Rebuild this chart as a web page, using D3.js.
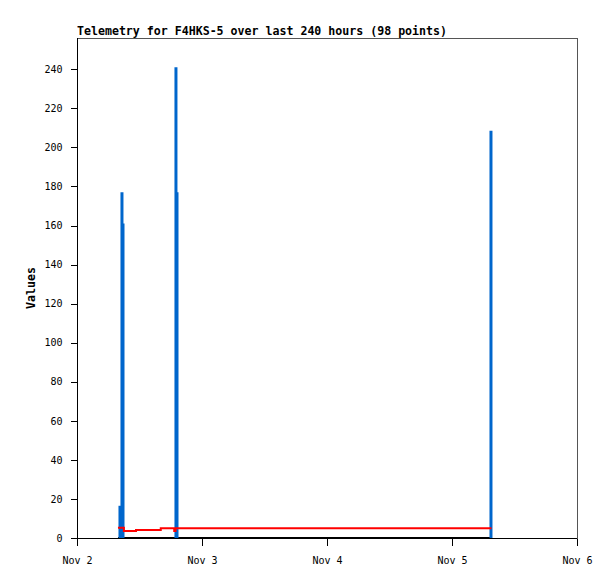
<!DOCTYPE html>
<html>
<head>
<meta charset="utf-8">
<script src="https://cdn.jsdelivr.net/npm/d3@7.9.0/dist/d3.min.js"></script>
<style>
  body { margin: 0; background: #fff; }
  svg { display: block; }
  .tick text { font-family: "DejaVu Sans Mono", monospace; font-size: 10px; fill: #000; }
  .tick line, .domain { stroke: #000; shape-rendering: crispEdges; }
</style>
</head>
<body>
<div id="chart"></div>
<script>
// -------- data --------
const title = 'Telemetry for F4HKS-5 over last 240 hours (98 points)';
const xDomain = ['2023-11-02T00:00Z', '2023-11-06T00:00Z'];
const yTicks = [0, 20, 40, 60, 80, 100, 120, 140, 160, 180, 200, 220, 240];

// blue impulses
const spikeTimes = ['2023-11-02T08:15Z', '2023-11-02T08:38Z', '2023-11-02T08:50Z',
                    '2023-11-02T19:00Z', '2023-11-02T19:12Z', '2023-11-05T07:29Z'];
const spikeValues = [16.5, 177, 161, 241, 177, 208.5];

// red step line
const levelTimes = ['2023-11-02T07:52Z', '2023-11-02T09:00Z', '2023-11-02T11:20Z',
                    '2023-11-02T16:05Z', '2023-11-02T18:40Z', '2023-11-02T18:55Z',
                    '2023-11-03T06:00Z', '2023-11-03T18:00Z', '2023-11-04T06:00Z',
                    '2023-11-04T18:00Z', '2023-11-05T07:35Z'];
const levelValues = [5.2, 3.6, 4.1, 5.0, 3.6, 5.0, 5.0, 5.0, 5.0, 5.0, 5.0];

// black baseline series
const zeroTimes = ['2023-11-02T07:52Z', '2023-11-05T07:35Z'];
const zeroValues = [0, 0];

// -------- chart --------
const width = 615, height = 579;
const margin = { top: 38, right: 38, bottom: 41, left: 77 };

const svg = d3.select('#chart').append('svg')
  .attr('width', width).attr('height', height);

const x = d3.scaleUtc()
  .domain(xDomain.map(d => new Date(d)))
  .range([margin.left, width - margin.right]);
const y = d3.scaleLinear()
  .domain([0, 256])
  .range([height - margin.bottom, margin.top]);

// frame
svg.append('rect')
  .attr('x', margin.left + 0.5).attr('y', margin.top + 0.5)
  .attr('width', width - margin.left - margin.right)
  .attr('height', height - margin.top - margin.bottom)
  .attr('fill', 'none').attr('stroke', '#555')
  .attr('shape-rendering', 'crispEdges');

// title
svg.append('text')
  .attr('x', margin.left).attr('y', 35)
  .attr('font-family', '"DejaVu Sans Mono", monospace')
  .attr('font-weight', 'bold').attr('font-size', '11.6px')
  .attr('textLength', 370).attr('lengthAdjust', 'spacing')
  .text(title);

// axis label
svg.append('text')
  .attr('transform', `translate(35, ${(margin.top + height - margin.bottom) / 2}) rotate(-90)`)
  .attr('text-anchor', 'middle')
  .attr('font-family', '"DejaVu Sans Mono", monospace')
  .attr('font-weight', 'bold').attr('font-size', '11.6px')
  .text('Values');

// y axis
svg.append('g')
  .attr('transform', `translate(${margin.left + 0.5},0)`)
  .call(d3.axisLeft(y).tickValues(yTicks).tickSize(7).tickPadding(8))
  .call(g => g.select('.domain').remove());
svg.append('line')
  .attr('x1', margin.left + 0.5).attr('x2', margin.left + 0.5)
  .attr('y1', margin.top).attr('y2', height - margin.bottom)
  .attr('stroke', '#000').attr('shape-rendering', 'crispEdges');

// x axis
svg.append('g')
  .attr('transform', `translate(0,${height - margin.bottom + 0.5})`)
  .call(d3.axisBottom(x).ticks(d3.utcDay.every(1)).tickFormat(d3.utcFormat('%b %-d'))
    .tickSize(7).tickPadding(11))
  .call(g => g.select('.domain').remove());
svg.append('line')
  .attr('x1', margin.left).attr('x2', width - margin.right)
  .attr('y1', height - margin.bottom + 0.5).attr('y2', height - margin.bottom + 0.5)
  .attr('stroke', '#000').attr('shape-rendering', 'crispEdges');

// black zero series (one pixel above the axis line)
const zeroData = zeroTimes.map((t, i) => ({ t: new Date(t), v: zeroValues[i] }));
svg.append('path')
  .datum(zeroData)
  .attr('fill', 'none').attr('stroke', '#000').attr('stroke-width', 1)
  .attr('d', d3.line().x(d => x(d.t)).y(d => y(d.v) - 0.5));

// blue impulses
const spikeData = spikeTimes.map((t, i) => ({ t: new Date(t), v: spikeValues[i] }));
svg.append('g')
  .selectAll('line')
  .data(spikeData)
  .join('line')
  .attr('x1', d => x(d.t)).attr('x2', d => x(d.t))
  .attr('y1', y(0)).attr('y2', d => y(d.v))
  .attr('stroke', '#0066cc').attr('stroke-width', 3);

// red step line
const levelData = levelTimes.map((t, i) => ({ t: new Date(t), v: levelValues[i] }));
svg.append('path')
  .datum(levelData)
  .attr('fill', 'none').attr('stroke', '#ff0000').attr('stroke-width', 2)
  .attr('d', d3.line().curve(d3.curveStepAfter).x(d => x(d.t)).y(d => y(d.v)));
</script>
</body>
</html>
